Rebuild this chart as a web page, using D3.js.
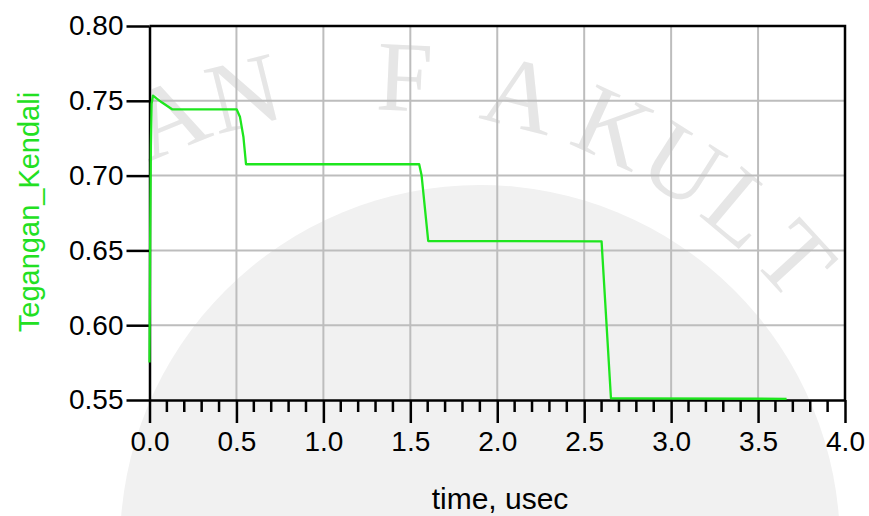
<!DOCTYPE html>
<html>
<head>
<meta charset="utf-8">
<script src="https://cdn.jsdelivr.net/npm/d3@7"></script>
<style>
  html, body { margin: 0; padding: 0; background: #ffffff; }
  svg { display: block; }
  text { font-family: "Liberation Sans", Arial, sans-serif; }
</style>
</head>
<body>
<svg id="chart" width="869" height="516"></svg>
<script>
// Control voltage transient (time in microseconds)
const timeUs = [0, 0.004, 0.008, 0.012, 0.02, 0.07, 0.13, 0.501, 0.52, 0.54, 0.555,
                1.551, 1.565, 1.603, 2.600, 2.654, 2.75, 3.664];
const tegangan = [0.575, 0.66, 0.72, 0.748, 0.7535, 0.749, 0.7443, 0.7443, 0.7394, 0.726, 0.7076,
                  0.7076, 0.700, 0.6563, 0.656, 0.5511, 0.5511, 0.5508];

const xTicks = [0.0, 0.5, 1.0, 1.5, 2.0, 2.5, 3.0, 3.5, 4.0];
const xMinorTicks = d3.range(0, 41).map(i => i / 10);
const yTicks = [0.55, 0.60, 0.65, 0.70, 0.75, 0.80];

const xTitle = "time, usec";
const yTitle = "Tegangan_Kendali";

// letters of the faint emblem lettering, with their angle (degrees) on the arc
const wmLetters = ["A", "N", "F", "A", "K", "U", "L", "T"];
const wmAngles  = [-22, -14, 2.5, 14.5, 24.5, 32.5, 40, 47.5];

const svg = d3.select("#chart");
const plot = { left: 149.5, right: 845, top: 26, bottom: 400 };

const x = d3.scaleLinear().domain([0, 4]).range([plot.left, plot.right]);
const y = d3.scaleLinear().domain([0.55, 0.80]).range([plot.bottom, plot.top]);

// faint background emblem
const bg = svg.append("g").attr("class", "watermark");
bg.append("circle").attr("cx", 480).attr("cy", 545).attr("r", 360).attr("fill", "#f1f1f1");
const wmCenter = [380, 640], wmRadius = 530;
bg.selectAll("text").data(wmLetters).join("text")
  .attr("transform", (d, i) => `translate(${wmCenter[0]},${wmCenter[1]}) rotate(${wmAngles[i]}) translate(0,${-wmRadius})`)
  .attr("text-anchor", "middle")
  .style("font-family", "'Liberation Serif', 'DejaVu Serif', serif")
  .style("font-size", "100px")
  .attr("fill", "#e6e6e6")
  .text(d => d);

// grid
const grid = svg.append("g").attr("class", "grid")
  .attr("stroke", "#bdbdbd").attr("stroke-width", 2);
grid.selectAll("line.v").data(xTicks.filter(t => t > 0 && t < 4)).join("line")
  .attr("class", "v")
  .attr("x1", d => x(d)).attr("x2", d => x(d))
  .attr("y1", plot.top).attr("y2", plot.bottom);
grid.selectAll("line.h").data(yTicks.filter(t => t > 0.55 && t < 0.8)).join("line")
  .attr("class", "h")
  .attr("x1", plot.left).attr("x2", plot.right)
  .attr("y1", d => y(d)).attr("y2", d => y(d));

// frame: top and right edges
svg.append("path")
  .attr("d", `M${plot.left},${plot.top}H${plot.right}V${plot.bottom}`)
  .attr("fill", "none").attr("stroke", "#000").attr("stroke-width", 2.5);

// y axis
const yAxis = svg.append("g")
  .attr("transform", `translate(${plot.left},0)`)
  .call(d3.axisLeft(y).tickValues(yTicks).tickFormat(d3.format(".2f"))
        .tickSize(23).tickSizeOuter(0).tickPadding(3));
yAxis.select(".domain").attr("stroke-width", 2.5);
yAxis.selectAll(".tick line").attr("stroke-width", 2.5);
yAxis.selectAll(".tick text").attr("font-size", 28).attr("fill", "#000");

// x axis minor ticks
svg.append("g").attr("class", "minor")
  .selectAll("line").data(xMinorTicks.filter(t => Math.abs(t * 2 - Math.round(t * 2)) > 1e-6)).join("line")
  .attr("x1", d => x(d)).attr("x2", d => x(d))
  .attr("y1", plot.bottom).attr("y2", plot.bottom + 12)
  .attr("stroke", "#000").attr("stroke-width", 2.5);

// x axis
const xAxis = svg.append("g")
  .attr("transform", `translate(0,${plot.bottom})`)
  .call(d3.axisBottom(x).tickValues(xTicks).tickFormat(d3.format(".1f"))
        .tickSize(23).tickSizeOuter(0).tickPadding(8));
xAxis.select(".domain").attr("stroke-width", 2.5);
xAxis.selectAll(".tick line").attr("stroke-width", 2.5);
xAxis.selectAll(".tick text").attr("font-size", 28).attr("fill", "#000");

// titles
svg.append("text")
  .attr("x", 500).attr("y", 509)
  .attr("text-anchor", "middle")
  .attr("font-size", 30).attr("fill", "#000")
  .text(xTitle);
svg.append("text")
  .attr("transform", "translate(39,212) rotate(-90)")
  .attr("text-anchor", "middle")
  .attr("font-size", 29).attr("fill", "#22e022")
  .text(yTitle);

// series
const line = d3.line().x((d, i) => x(timeUs[i])).y(d => y(d));
svg.append("path")
  .datum(tegangan)
  .attr("d", line)
  .attr("fill", "none")
  .attr("stroke", "#1ee61e")
  .attr("stroke-width", 2.3)
  .attr("stroke-linejoin", "round");
</script>
</body>
</html>
